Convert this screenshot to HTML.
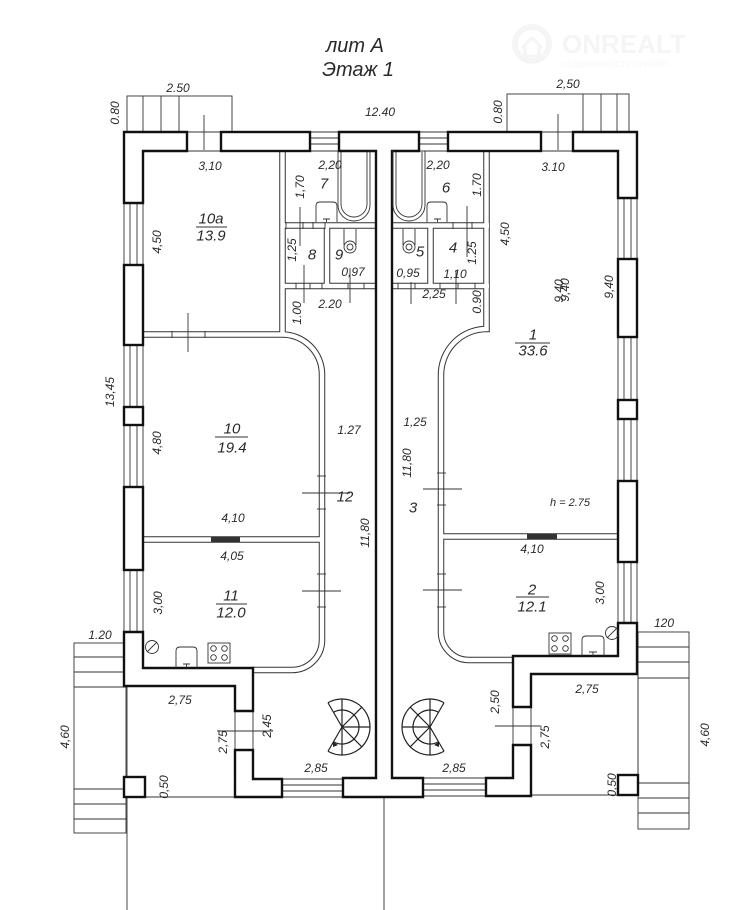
<!DOCTYPE html>
<html><head><meta charset="utf-8">
<style>
html,body{margin:0;padding:0;background:#fff;}
svg{display:block;}
text{font-family:"Liberation Sans",sans-serif;font-style:italic;fill:#2a2a2a;}
.w{fill:#fff;stroke:#111;stroke-width:2.4;}
.t{stroke:#333;stroke-width:0.9;fill:none;}
.pb{stroke:#333;stroke-width:6.5;fill:none;}
.pw{stroke:#fff;stroke-width:4.5;fill:none;}
</style></head><body>
<svg width="742" height="910" viewBox="0 0 742 910" xmlns="http://www.w3.org/2000/svg">
<rect width="742" height="910" fill="#fff"/>

<!-- watermark -->
<g opacity="0.35">
<circle cx="532" cy="44" r="17" fill="none" stroke="#e3e3e3" stroke-width="6"/>
<path d="M522 48 L532 38 L542 48 M525 46 V56 H539 V46" fill="none" stroke="#e3e3e3" stroke-width="3"/>
<text x="562" y="53" font-size="26" font-weight="bold" style="font-style:normal;fill:#e3e3e3">ONREALT</text>
<text x="562" y="67" font-size="8" style="font-style:normal;fill:#e6e6e6">НЕДВИЖИМОСТЬ ОНЛАЙН</text>
</g>

<!-- title -->
<text x="355" y="52" font-size="20" text-anchor="middle">лит А</text>
<text x="358" y="76" font-size="20" text-anchor="middle">Этаж 1</text>

<!-- balconies -->
<g class="t">
<rect x="127" y="96" width="105" height="36"/>
<line x1="143" y1="96" x2="143" y2="132"/><line x1="161" y1="96" x2="161" y2="132"/><line x1="179" y1="96" x2="179" y2="132"/>
<rect x="507" y="94" width="122" height="38"/>
<line x1="583" y1="94" x2="583" y2="132"/><line x1="601" y1="94" x2="601" y2="132"/><line x1="617" y1="94" x2="617" y2="132"/>
<!-- porches -->
<rect x="74" y="643" width="52" height="190"/>
<line x1="74" y1="657" x2="126" y2="657"/><line x1="74" y1="672" x2="126" y2="672"/><line x1="74" y1="687" x2="126" y2="687"/>
<line x1="74" y1="789" x2="126" y2="789"/><line x1="74" y1="804" x2="126" y2="804"/><line x1="74" y1="819" x2="126" y2="819"/>
<rect x="638" y="632" width="51" height="197"/>
<line x1="638" y1="647" x2="689" y2="647"/><line x1="638" y1="662" x2="689" y2="662"/><line x1="638" y1="678" x2="689" y2="678"/>
<line x1="638" y1="783" x2="689" y2="783"/><line x1="638" y1="798" x2="689" y2="798"/><line x1="638" y1="813" x2="689" y2="813"/>
<!-- extension lines -->
<line x1="127" y1="686" x2="127" y2="910"/>
<line x1="384" y1="797" x2="384" y2="910"/>
<line x1="145" y1="797" x2="235" y2="797"/>
<line x1="638" y1="674" x2="638" y2="775"/>
<line x1="531" y1="795" x2="618" y2="795"/>
<!-- door openings outer -->
<line x1="187" y1="132" x2="221" y2="132"/><line x1="187" y1="151" x2="221" y2="151"/>
<line x1="541" y1="132" x2="573" y2="132"/><line x1="541" y1="151" x2="573" y2="151"/>
<line x1="235" y1="711" x2="235" y2="750"/><line x1="253" y1="711" x2="253" y2="750"/>
<line x1="513" y1="707" x2="513" y2="745"/><line x1="531" y1="707" x2="531" y2="745"/>
<!-- windows top -->
<line x1="310" y1="132" x2="339" y2="132"/><line x1="310" y1="138" x2="339" y2="138"/><line x1="310" y1="144" x2="339" y2="144"/><line x1="310" y1="151" x2="339" y2="151"/>
<line x1="419" y1="132" x2="448" y2="132"/><line x1="419" y1="138" x2="448" y2="138"/><line x1="419" y1="144" x2="448" y2="144"/><line x1="419" y1="151" x2="448" y2="151"/>
<!-- windows bottom -->
<line x1="282" y1="779" x2="343" y2="779"/><line x1="282" y1="785" x2="343" y2="785"/><line x1="282" y1="791" x2="343" y2="791"/><line x1="282" y1="797" x2="343" y2="797"/>
<line x1="423" y1="778" x2="486" y2="778"/><line x1="423" y1="784" x2="486" y2="784"/><line x1="423" y1="790" x2="486" y2="790"/><line x1="423" y1="796" x2="486" y2="796"/>
</g>
<!-- windows side -->
<g class="t">
<path d="M124 203V265M130 203V265M137 203V265M143 203V265"/>
<path d="M124 345V407M130 345V407M137 345V407M143 345V407"/>
<path d="M124 425V487M130 425V487M137 425V487M143 425V487"/>
<path d="M124 570V632M130 570V632M137 570V632M143 570V632"/>
<path d="M618 198V259M624 198V259M631 198V259M637 198V259"/>
<path d="M618 337V400M624 337V400M631 337V400M637 337V400"/>
<path d="M618 419V481M624 419V481M631 419V481M637 419V481"/>
<path d="M618 562V623M624 562V623M631 562V623M637 562V623"/>
</g>

<!-- partitions (double lines) -->
<g>
<path class="pb" d="M282.5 151V334.5"/><path class="pb" d="M143 334.5H282A40 40 0 0 1 322 374.5V640A30 30 0 0 1 292 670H253"/>
<path class="pb" d="M282 225.5H376"/><path class="pb" d="M282 286H376"/><path class="pb" d="M327 225V286"/>
<path class="pb" d="M143 539.5H322"/>
<path class="pb" d="M486.5 151V329A45.5 46 0 0 0 441 375V632A28 28 0 0 0 469 660H513"/>
<path class="pb" d="M392 225.5H489"/><path class="pb" d="M392 286H489"/><path class="pb" d="M430.5 225V286"/>
<path class="pb" d="M441 536.5H618"/>
<path class="pw" d="M282.5 151V334.5"/><path class="pw" d="M143 334.5H282A40 40 0 0 1 322 374.5V640A30 30 0 0 1 292 670H253"/>
<path class="pw" d="M282 225.5H376"/><path class="pw" d="M282 286H376"/><path class="pw" d="M327 225V286"/>
<path class="pw" d="M143 539.5H322"/>
<path class="pw" d="M486.5 151V329A45.5 46 0 0 0 441 375V632A28 28 0 0 0 469 660H513"/>
<path class="pw" d="M392 225.5H489"/><path class="pw" d="M392 286H489"/><path class="pw" d="M430.5 225V286"/>
<path class="pw" d="M441 536.5H618"/>
</g>
<rect x="211" y="537" width="29" height="5" fill="#333"/>
<rect x="527" y="534" width="30" height="5" fill="#333"/>

<!-- walls -->
<path class="w" d="M124 132H187V151H143V203H124Z"/>
<rect class="w" x="221" y="132" width="89" height="19"/>
<path class="w" d="M339 132H419V151H392V778H423V797H343V778H376V151H339Z"/>
<rect class="w" x="448" y="132" width="93" height="19"/>
<path class="w" d="M573 132H637V198H618V151H573Z"/>
<rect class="w" x="618" y="259" width="19" height="78"/>
<rect class="w" x="618" y="400" width="19" height="19"/>
<rect class="w" x="618" y="481" width="19" height="81"/>
<path class="w" d="M618 623H637V674H531V707H513V656H618Z"/>
<path class="w" d="M513 745H531V796H486V778H513Z"/>
<rect class="w" x="618" y="775" width="20" height="20"/>
<rect class="w" x="124" y="265" width="19" height="80"/>
<rect class="w" x="124" y="407" width="19" height="18"/>
<rect class="w" x="124" y="487" width="19" height="83"/>
<path class="w" d="M124 632H143V668H253V711H235V686H124Z"/>
<path class="w" d="M235 750H253V779H282V797H235Z"/>
<rect class="w" x="124" y="777" width="21" height="20"/>

<!-- ticks & dimension lines -->
<g class="t">
<line x1="204" y1="115" x2="204" y2="150"/>
<line x1="558" y1="114" x2="558" y2="150"/>
<line x1="300" y1="207" x2="300" y2="246"/>
<line x1="304" y1="265" x2="304" y2="303"/>
<line x1="350" y1="268" x2="350" y2="303"/>
<line x1="467" y1="206" x2="467" y2="257"/>
<line x1="411" y1="282" x2="411" y2="304"/>
<line x1="456" y1="270" x2="456" y2="304"/>
<line x1="188" y1="313" x2="188" y2="352"/>
<line x1="172" y1="331" x2="172" y2="338"/><line x1="205" y1="331" x2="205" y2="338"/>
<line x1="286" y1="222" x2="286" y2="229"/><line x1="303" y1="222" x2="303" y2="229"/><line x1="313" y1="222" x2="313" y2="229"/><line x1="325" y1="222" x2="325" y2="229"/>
<line x1="296" y1="283" x2="296" y2="289"/><line x1="310" y1="283" x2="310" y2="289"/><line x1="322" y1="283" x2="322" y2="289"/><line x1="348" y1="283" x2="348" y2="289"/><line x1="364" y1="283" x2="364" y2="289"/>
<line x1="453" y1="222" x2="453" y2="229"/><line x1="472" y1="222" x2="472" y2="229"/>
<line x1="398" y1="283" x2="398" y2="289"/><line x1="415" y1="283" x2="415" y2="289"/><line x1="440" y1="283" x2="440" y2="289"/><line x1="458" y1="283" x2="458" y2="289"/><line x1="475" y1="283" x2="475" y2="289"/>
<line x1="317" y1="476" x2="326" y2="476"/><line x1="317" y1="509" x2="326" y2="509"/>
<line x1="317" y1="574" x2="326" y2="574"/><line x1="317" y1="607" x2="326" y2="607"/>
<line x1="302" y1="493" x2="350" y2="493"/><line x1="302" y1="591" x2="341" y2="591"/>
<line x1="437" y1="473" x2="446" y2="473"/><line x1="437" y1="505" x2="446" y2="505"/>
<line x1="437" y1="574" x2="446" y2="574"/><line x1="437" y1="607" x2="446" y2="607"/>
<line x1="423" y1="489" x2="462" y2="489"/><line x1="423" y1="590" x2="462" y2="590"/>
<line x1="217" y1="731" x2="273" y2="731"/>
<line x1="495" y1="726" x2="540" y2="726"/>
<!-- fraction lines -->
<line x1="196" y1="227" x2="227" y2="227"/>
<line x1="215" y1="437" x2="248" y2="437"/>
<line x1="216" y1="604" x2="247" y2="604"/>
<line x1="515" y1="343" x2="550" y2="343"/>
<line x1="516" y1="597" x2="549" y2="597"/>
</g>

<!-- bath fixtures -->
<g class="t" stroke-width="1.1">
<path d="M338 151V205A16 16 0 0 0 370 205V151"/>
<path d="M341 152V204A13 13 0 0 0 367 204V152"/>
<path d="M393 151V205A16 16 0 0 0 425 205V151"/>
<path d="M396 152V204A13 13 0 0 0 422 204V152"/>
<path d="M316 222V206Q316 202 320 202H333Q337 202 337 206V222"/>
<path d="M323 219H330M326.5 219V222"/>
<path d="M427 222V206Q427 202 431 202H443Q447 202 447 206V222"/>
<path d="M434 219H441M437.5 219V222"/>
<path d="M344 229V245M356 229V245"/><circle cx="350" cy="247" r="6"/><circle cx="350" cy="247" r="3"/>
<path d="M403 229V245M415 229V245"/><circle cx="409" cy="247" r="6"/><circle cx="409" cy="247" r="3"/>
</g>

<!-- kitchen fixtures -->
<g class="t" stroke-width="1.1">
<circle cx="152" cy="647" r="6.5"/><line x1="147" y1="652" x2="157" y2="642"/>
<path d="M176 668V651Q176 647 180 647H193Q197 647 197 651V668"/><path d="M183 664H190M186.5 664V668"/>
<rect x="208" y="643" width="22" height="20"/>
<circle cx="213.5" cy="648.5" r="2.8"/><circle cx="224.5" cy="648.5" r="2.8"/><circle cx="213.5" cy="657.5" r="2.8"/><circle cx="224.5" cy="657.5" r="2.8"/>
<rect x="549" y="633" width="22" height="21"/>
<circle cx="554.5" cy="638.5" r="2.8"/><circle cx="565.5" cy="638.5" r="2.8"/><circle cx="554.5" cy="648.5" r="2.8"/><circle cx="565.5" cy="648.5" r="2.8"/>
<path d="M582 656V640Q582 636 586 636H600Q604 636 604 640V656"/><path d="M589 652H597M593 652V656"/>
<circle cx="612" cy="633" r="6.5"/><line x1="607" y1="638" x2="617" y2="628"/>
</g>

<!-- spiral stairs -->
<g fill="none" stroke="#222" stroke-width="1.2">
<path d="M328 702.75A28 28 0 1 1 328 751.25"/>
<path d="M333.5 712.28A17 17 0 1 1 333.5 741.72"/>
<path d="M342 727L328 702.75M342 727L342 699M342 727L361.8 707.2M342 727L370 727M342 727L361.8 746.8M342 727L342 755M342 727L328 751.25"/>
<path d="M444 702.75A28 28 0 1 0 444 751.25"/>
<path d="M438.5 712.28A17 17 0 1 0 438.5 741.72"/>
<path d="M430 727L444 702.75M430 727L430 699M430 727L410.2 707.2M430 727L402 727M430 727L410.2 746.8M430 727L430 755M430 727L444 751.25"/>
</g>
<path d="M333 742l5 3-5 2z" fill="#222"/>
<path d="M439 742l-5 3 5 2z" fill="#222"/>

<!-- horizontal labels -->
<g font-size="12" text-anchor="middle" dominant-baseline="central">
<text x="178" y="88">2.50</text>
<text x="568" y="84">2,50</text>
<text x="380" y="112">12.40</text>
<text x="210" y="166">3,10</text>
<text x="553" y="167">3.10</text>
<text x="330" y="165">2,20</text>
<text x="438" y="165">2,20</text>
<text x="353" y="272">0,97</text>
<text x="408" y="273">0,95</text>
<text x="455" y="274">1,10</text>
<text x="330" y="304">2.20</text>
<text x="434" y="294">2,25</text>
<text x="349" y="430">1.27</text>
<text x="415" y="422">1,25</text>
<text x="570" y="503" font-size="11">h = 2.75</text>
<text x="233" y="518">4,10</text>
<text x="232" y="556">4,05</text>
<text x="532" y="549">4,10</text>
<text x="100" y="635">1.20</text>
<text x="664" y="623">120</text>
<text x="180" y="700">2,75</text>
<text x="587" y="689">2,75</text>
<text x="316" y="768">2,85</text>
<text x="454" y="768">2,85</text>
</g>
<g font-size="15" text-anchor="middle" dominant-baseline="central">
<text x="324" y="184">7</text>
<text x="446" y="188">6</text>
<text x="312" y="255">8</text>
<text x="339" y="255">9</text>
<text x="420" y="252">5</text>
<text x="453" y="248">4</text>
<text x="345" y="497">12</text>
<text x="413" y="508">3</text>
<text x="211" y="219">10а</text>
<text x="211" y="236">13.9</text>
<text x="232" y="429">10</text>
<text x="232" y="448">19.4</text>
<text x="231" y="596">11</text>
<text x="231" y="613">12.0</text>
<text x="533" y="335">1</text>
<text x="533" y="351">33.6</text>
<text x="532" y="590">2</text>
<text x="532" y="607">12.1</text>
</g>

<!-- rotated labels -->
<g font-size="12" text-anchor="middle" dominant-baseline="central">
<text transform="translate(115,113) rotate(-90)">0.80</text>
<text transform="translate(498,112) rotate(-90)">0.80</text>
<text transform="translate(300,187) rotate(-90)">1,70</text>
<text transform="translate(477,185) rotate(-90)">1.70</text>
<text transform="translate(157,242) rotate(-90)">4,50</text>
<text transform="translate(505,234) rotate(-90)">4,50</text>
<text transform="translate(292,250) rotate(-90)">1,25</text>
<text transform="translate(472,253) rotate(-90)">1.25</text>
<text transform="translate(297,313) rotate(-90)">1.00</text>
<text transform="translate(477,302) rotate(-90)">0.90</text>
<text transform="translate(559,291) rotate(-90)">9.40</text>
<text transform="translate(565,290) rotate(-90)">9,40</text>
<text transform="translate(609,287) rotate(-90)">9,40</text>
<text transform="translate(110,392) rotate(-90)">13,45</text>
<text transform="translate(157,443) rotate(-90)">4,80</text>
<text transform="translate(407,463) rotate(-90)">11,80</text>
<text transform="translate(365,533) rotate(-90)">11,80</text>
<text transform="translate(158,603) rotate(-90)">3,00</text>
<text transform="translate(600,593) rotate(-90)">3,00</text>
<text transform="translate(65,737) rotate(-90)">4,60</text>
<text transform="translate(705,735) rotate(-90)">4,60</text>
<text transform="translate(267,726) rotate(-90)">2,45</text>
<text transform="translate(223,742) rotate(-90)">2,75</text>
<text transform="translate(495,702) rotate(-90)">2,50</text>
<text transform="translate(545,737) rotate(-90)">2,75</text>
<text transform="translate(164,787) rotate(-90)">0,50</text>
<text transform="translate(612,785) rotate(-90)">0,50</text>
</g>
</svg>
</body></html>
